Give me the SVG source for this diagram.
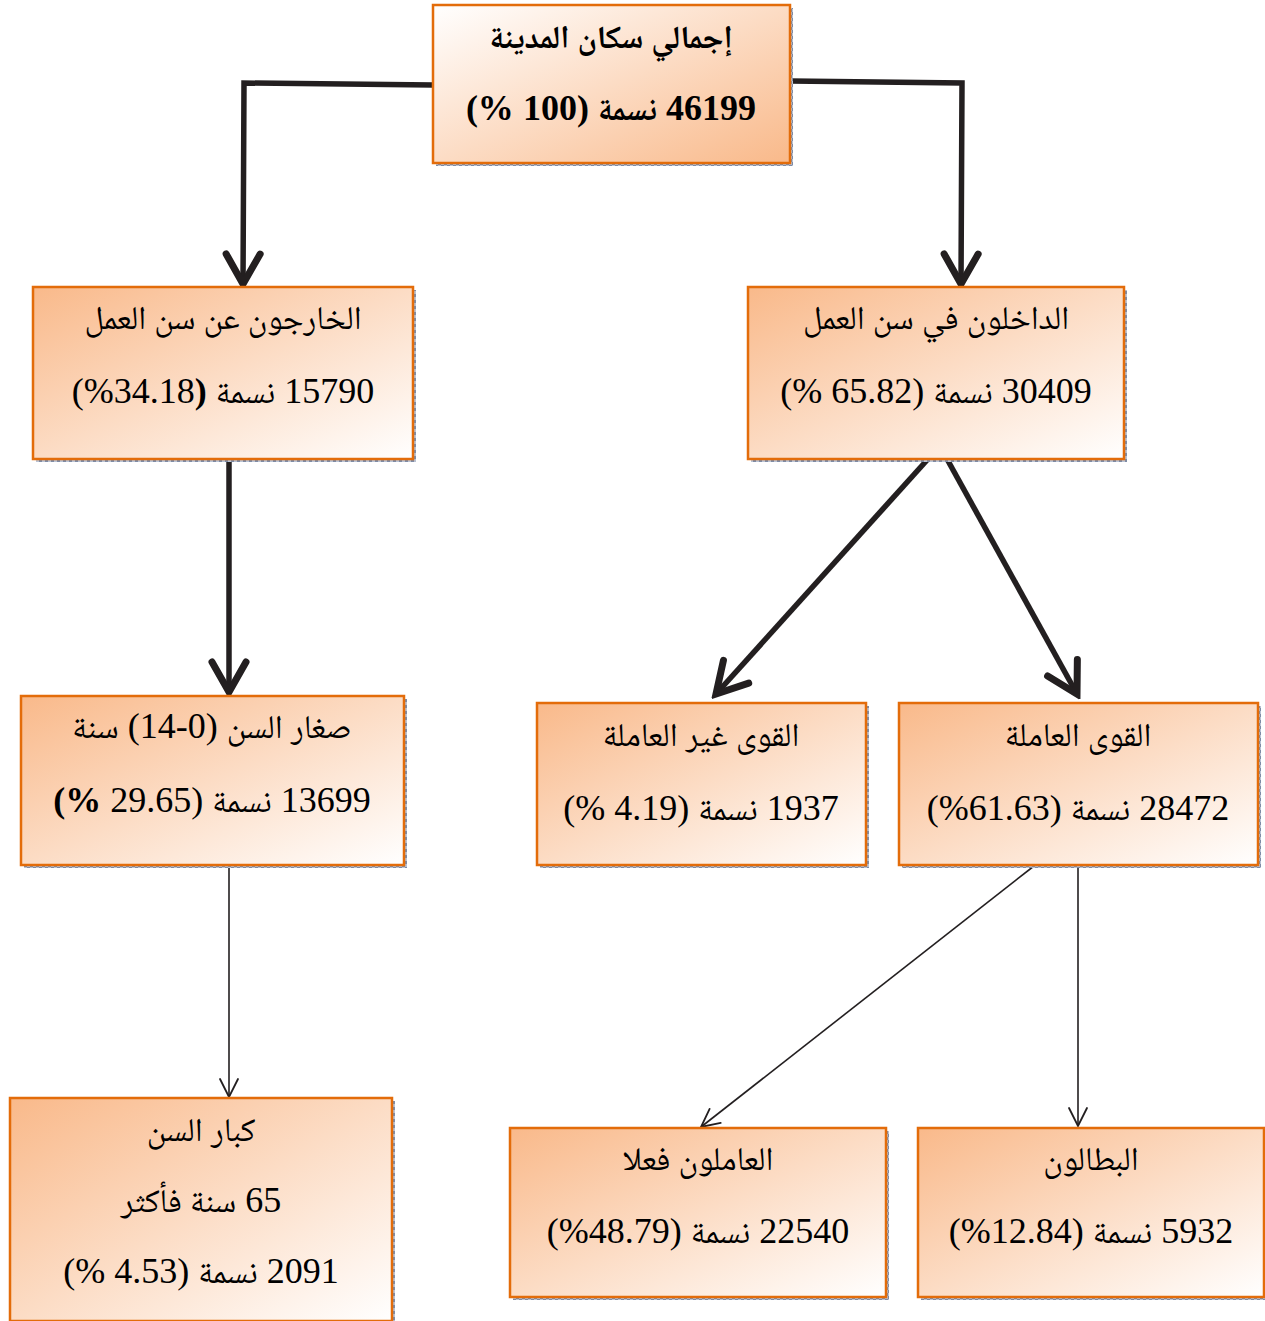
<svg xmlns="http://www.w3.org/2000/svg" width="1265" height="1321" viewBox="0 0 1265 1321">
<style>
.box{stroke:#e36c0a;stroke-width:2.5}
.sh{fill:url(#shp)}
.t{font-family:"Liberation Serif","Noto Naskh Arabic","Noto Sans Arabic","DejaVu Sans",serif;font-size:36px;fill:#000;text-anchor:middle}
.b{font-weight:bold}
.ar{font-size:33px}
.arb{font-size:32px}
.thick{fill:none;stroke:#231f20;stroke-width:5.5;marker-end:url(#ah)}
.thin{fill:none;stroke:#231f20;stroke-width:1.6;marker-end:url(#at)}
</style>
<defs>
<linearGradient id="gUp" x1="0" y1="0" x2="1" y2="1">
<stop offset="0" stop-color="#fff"/><stop offset="1" stop-color="#f9b98a"/>
</linearGradient>
<linearGradient id="gDn" x1="0" y1="0" x2="1" y2="1">
<stop offset="0" stop-color="#f9b98a"/><stop offset="1" stop-color="#fff"/>
</linearGradient>
<pattern id="shp" width="6" height="6" patternUnits="userSpaceOnUse">
<rect width="6" height="6" fill="#b9c2d3"/><rect width="3" height="3" fill="#7e8ba5"/><rect x="3" y="3" width="3" height="3" fill="#7e8ba5"/>
</pattern>
<marker id="ah" markerUnits="userSpaceOnUse" viewBox="-36 -22 42 44" markerWidth="42" markerHeight="44" refX="0" refY="0" orient="auto">
<path d="M-30,-17 L0,0 L-30,17" fill="none" stroke="#231f20" stroke-width="7" stroke-linecap="round" stroke-linejoin="miter"/>
</marker>
<marker id="at" markerUnits="userSpaceOnUse" viewBox="-22 -12 26 24" markerWidth="26" markerHeight="24" refX="0" refY="0" orient="auto">
<path d="M-18,-9 L0,0 L-18,9" fill="none" stroke="#231f20" stroke-width="1.8" stroke-linecap="round"/>
</marker>
</defs>
<rect width="1265" height="1321" fill="#fff"/>

<g id="connectors">
<polyline class="thick" points="433,85 244,83 243,284"/>
<polyline class="thick" points="790,81 962,83 961,284"/>
<line class="thick" x1="229" y1="459" x2="229" y2="692"/>
<line class="thick" x1="928" y1="459" x2="716" y2="694"/>
<line class="thick" x1="947" y1="459" x2="1077" y2="694"/>
<line class="thin" x1="229" y1="866" x2="229" y2="1097"/>
<line class="thin" x1="1034" y1="866" x2="701" y2="1127"/>
<line class="thin" x1="1078" y1="866" x2="1078" y2="1126"/>
</g>

<g id="n-total">
<rect class="sh" x="436" y="8" width="357" height="158"/>
<rect class="box" x="433" y="5" width="357" height="158" fill="url(#gUp)"/>
<text class="t b arb" x="611" y="48" direction="rtl">إجمالي سكان المدينة</text>
<text class="t b" x="611" y="120" direction="rtl">46199 <tspan class="arb">نسمة</tspan> (100 %)</text>
</g>

<g id="n-outside">
<rect class="sh" x="36" y="290" width="380" height="172"/>
<rect class="box" x="33" y="287" width="380" height="172" fill="url(#gDn)"/>
<text class="t ar" x="223" y="329" direction="rtl">الخارجون عن سن العمل</text>
<text class="t" x="223" y="403" direction="rtl">15790 <tspan class="ar">نسمة</tspan> <tspan class="b">(</tspan>&#x2066;%34.18&#x2069;)</text>
</g>

<g id="n-inside">
<rect class="sh" x="751" y="290" width="376" height="172"/>
<rect class="box" x="748" y="287" width="376" height="172" fill="url(#gDn)"/>
<text class="t ar" x="936" y="329" direction="rtl">الداخلون في سن العمل</text>
<text class="t" x="936" y="403" direction="rtl">30409 <tspan class="ar">نسمة</tspan> (65.82 %)</text>
</g>

<g id="n-young">
<rect class="sh" x="24" y="699" width="383" height="169"/>
<rect class="box" x="21" y="696" width="383" height="169" fill="url(#gDn)"/>
<text class="t" x="212" y="738" direction="rtl"><tspan class="ar">صغار السن</tspan> (0&#x200F;-14) <tspan class="ar">سنة</tspan></text>
<text class="t" x="212" y="812" direction="rtl">13699 <tspan class="ar">نسمة</tspan> (29.65 <tspan class="b">%)</tspan></text>
</g>

<g id="n-nonlabor">
<rect class="sh" x="540" y="706" width="329" height="162"/>
<rect class="box" x="537" y="703" width="329" height="162" fill="url(#gDn)"/>
<text class="t ar" x="701" y="746" direction="rtl">القوى غير العاملة</text>
<text class="t" x="701" y="820" direction="rtl">1937 <tspan class="ar">نسمة</tspan> (4.19 %)</text>
</g>

<g id="n-labor">
<rect class="sh" x="902" y="706" width="359" height="162"/>
<rect class="box" x="899" y="703" width="359" height="162" fill="url(#gDn)"/>
<text class="t ar" x="1078" y="746" direction="rtl">القوى العاملة</text>
<text class="t" x="1078" y="820" direction="rtl">28472 <tspan class="ar">نسمة</tspan> (&#x2066;%61.63&#x2069;)</text>
</g>

<g id="n-old">
<rect class="sh" x="13" y="1101" width="382" height="223"/>
<rect class="box" x="10" y="1098" width="382" height="223" fill="url(#gDn)"/>
<text class="t ar" x="201" y="1141" direction="rtl">كبار السن</text>
<text class="t" x="201" y="1212" direction="rtl">65 <tspan class="ar">سنة فأكثر</tspan></text>
<text class="t" x="201" y="1283" direction="rtl">2091 <tspan class="ar">نسمة</tspan> (4.53 %)</text>
</g>

<g id="n-employed">
<rect class="sh" x="513" y="1131" width="376" height="169"/>
<rect class="box" x="510" y="1128" width="376" height="169" fill="url(#gDn)"/>
<text class="t ar" x="698" y="1170" direction="rtl">العاملون فعلا</text>
<text class="t" x="698" y="1243" direction="rtl">22540 <tspan class="ar">نسمة</tspan> (&#x2066;%48.79&#x2069;)</text>
</g>

<g id="n-unemployed">
<rect class="sh" x="921" y="1131" width="346" height="169"/>
<rect class="box" x="918" y="1128" width="346" height="169" fill="url(#gDn)"/>
<text class="t ar" x="1091" y="1170" direction="rtl">البطالون</text>
<text class="t" x="1091" y="1243" direction="rtl">5932 <tspan class="ar">نسمة</tspan> (&#x2066;%12.84&#x2069;)</text>
</g>
</svg>
